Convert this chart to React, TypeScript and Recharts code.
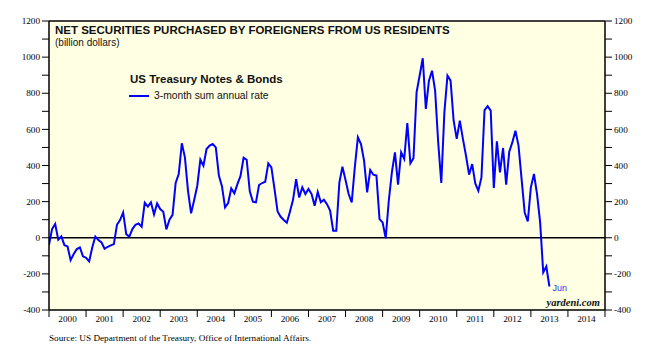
import React from "react";
import {
  LineChart,
  Line,
  XAxis,
  YAxis,
  CartesianGrid,
  ReferenceLine,
  LabelList,
} from "recharts";

// Monthly values, Dec 1999 .. Jun 2013 (billion dollars, 3-month sum annual rate)
const values: number[] = [
  -39, 48, 76, -11, 7, -41, -48, -124, -90, -63, -54, -103,
  -111, -131, -54, 7, -13, -26, -61, -50, -42, -35, 72, 98,
  140, 20, 6, 48, 72, 79, 61, 194, 172, 196, 129, 190,
  159, 144, 46, 100, 127, 303, 353, 523, 445, 260, 135, 209,
  288, 432, 399, 491, 510, 519, 500, 344, 284, 168, 192, 273,
  246, 297, 342, 443, 432, 257, 200, 196, 292, 303, 310, 412,
  390, 270, 146, 116, 98, 83, 144, 210, 325, 223, 279, 242,
  270, 242, 177, 253, 196, 210, 186, 150, 39, 39, 305, 393,
  320, 242, 196, 390, 556, 519, 427, 251, 375, 349, 344, 103,
  85, -2, 205, 362, 473, 294, 473, 436, 635, 412, 441, 805,
  898, 994, 713, 870, 925, 815, 528, 303, 694, 898, 870, 648,
  547, 648, 547, 454, 349, 408, 301, 260, 334, 707, 728, 704,
  275, 534, 362, 497, 294, 477, 528, 593, 510, 325, 140, 90,
  279, 353, 242, 85, -192, -159, -270,
];

const years: string[] = [
  "2000", "2001", "2002", "2003", "2004", "2005", "2006", "2007",
  "2008", "2009", "2010", "2011", "2012", "2013", "2014",
];
const yTicks: number[] = [
  -400, -300, -200, -100, 0, 100, 200, 300, 400, 500, 600, 700, 800, 900, 1000, 1100, 1200,
];
const lastLabel = "Jun";

const data = values.map((v, i) => ({ m: i, v }));
const xTicks = years.map((_, i) => i * 12).concat([years.length * 12]);

const W = 645;
const H = 355;
const LEFT_W = 41;
const RIGHT_W = 48;
const PLOT_W = W - LEFT_W - RIGHT_W;
const HALF_YEAR_PX = (PLOT_W / (years.length * 12)) * 6;

const SERIF = '"Liberation Serif", "Times New Roman", serif';
const SANS = '"Liberation Sans", Arial, sans-serif';

const XTick = (props: any) => {
  const { x, y, payload } = props;
  const idx = Math.round(payload.value / 12);
  if (idx >= years.length) return <g />;
  return (
    <text
      x={x + HALF_YEAR_PX}
      y={y - 4}
      dy="0.71em"
      textAnchor="middle"
      fontFamily={SERIF}
      fontSize={9.2}
      fill="#000"
    >
      {years[idx]}
    </text>
  );
};

const YTickLeft = (props: any) => {
  const { x, y, payload } = props;
  if (payload.value % 200 !== 0) return <g />;
  return (
    <text x={x} y={y} dy="0.35em" textAnchor="end" fontFamily={SERIF} fontSize={9.2} fill="#000">
      {payload.value}
    </text>
  );
};

const YTickRight = (props: any) => {
  const { x, y, payload } = props;
  if (payload.value % 200 !== 0) return <g />;
  return (
    <text x={x} y={y} dy="0.35em" textAnchor="start" fontFamily={SERIF} fontSize={9.2} fill="#000">
      {payload.value}
    </text>
  );
};

const JunLabel = (props: any) => {
  const { x, y, index } = props;
  if (index !== values.length - 1) return <g />;
  return (
    <text x={x + 3} y={y + 1} dy="0.35em" fontFamily={SANS} fontSize={9} fill="#3030ff">
      {lastLabel}
    </text>
  );
};

export default function App() {
  return (
    <div style={{ position: "relative", width: W, height: H }}>
      <LineChart
        width={W}
        height={H}
        data={data}
        margin={{ top: 13, right: 0, bottom: 0, left: 0 }}
      >
        <CartesianGrid fill="#ffffe4" horizontal={false} vertical={false} yAxisId="left" />
        <XAxis
          dataKey="m"
          type="number"
          domain={[0, years.length * 12]}
          ticks={xTicks}
          interval={0}
          height={53}
          tick={<XTick />}
          tickSize={7}
          tickMargin={2}
          axisLine={{ stroke: "#000", strokeWidth: 1.5 }}
          tickLine={{ stroke: "#000", strokeWidth: 1 }}
          allowDataOverflow
        />
        <YAxis
          yAxisId="left"
          orientation="left"
          width={LEFT_W}
          domain={[-400, 1200]}
          ticks={yTicks}
          interval={0}
          tick={<YTickLeft />}
          tickSize={7}
          tickMargin={2}
          axisLine={{ stroke: "#000", strokeWidth: 1.5 }}
          tickLine={{ stroke: "#000", strokeWidth: 1 }}
          allowDataOverflow
        />
        <YAxis
          yAxisId="right"
          orientation="right"
          width={RIGHT_W}
          domain={[-400, 1200]}
          ticks={yTicks}
          interval={0}
          tick={<YTickRight />}
          tickSize={7}
          tickMargin={2}
          axisLine={{ stroke: "#000", strokeWidth: 1.5 }}
          tickLine={{ stroke: "#000", strokeWidth: 1 }}
          allowDataOverflow
        />
        <ReferenceLine yAxisId="left" y={1200} stroke="#000" strokeWidth={1.5} />
        <ReferenceLine yAxisId="left" y={0} stroke="#000" strokeWidth={1.5} />
        <Line
          yAxisId="left"
          dataKey="v"
          type="linear"
          stroke="#0000ff"
          strokeWidth={2}
          dot={false}
          isAnimationActive={false}
        >
          <LabelList dataKey="v" content={<JunLabel />} />
        </Line>
        <Line
          yAxisId="right"
          dataKey="v"
          type="linear"
          stroke="none"
          dot={false}
          legendType="none"
          isAnimationActive={false}
        />
      </LineChart>

      <div
        style={{
          position: "absolute", left: 47, top: 16, fontFamily: SANS, fontSize: 11.5,
          fontWeight: "bold", lineHeight: "12px", color: "#111", whiteSpace: "nowrap",
        }}
      >
        NET SECURITIES PURCHASED BY FOREIGNERS FROM US RESIDENTS
      </div>
      <div
        style={{
          position: "absolute", left: 47, top: 29, fontFamily: SANS, fontSize: 10,
          lineHeight: "12px", color: "#111", whiteSpace: "nowrap",
        }}
      >
        (billion dollars)
      </div>
      <div
        style={{
          position: "absolute", left: 122, top: 65, fontFamily: SANS, fontSize: 11.5,
          fontWeight: "bold", lineHeight: "12px", color: "#111", whiteSpace: "nowrap",
        }}
      >
        US Treasury Notes &amp; Bonds
      </div>
      <div
        style={{
          position: "absolute", left: 121, top: 87, width: 20, height: 2, background: "#0000ff",
        }}
      />
      <div
        style={{
          position: "absolute", left: 146, top: 82, fontFamily: SANS, fontSize: 10.3,
          lineHeight: "12px", color: "#111", whiteSpace: "nowrap",
        }}
      >
        3-month sum annual rate
      </div>
      <div
        style={{
          position: "absolute", left: 538.5, top: 289, fontFamily: SERIF, fontSize: 10.5,
          fontWeight: "bold", fontStyle: "italic", lineHeight: "12px", color: "#111",
          whiteSpace: "nowrap",
        }}
      >
        yardeni.com
      </div>
      <div
        style={{
          position: "absolute", left: 41, top: 324, fontFamily: SERIF, fontSize: 9.2,
          lineHeight: "12px", color: "#000", whiteSpace: "nowrap",
        }}
      >
        Source: US Department of the Treasury, Office of International Affairs.
      </div>
    </div>
  );
}
